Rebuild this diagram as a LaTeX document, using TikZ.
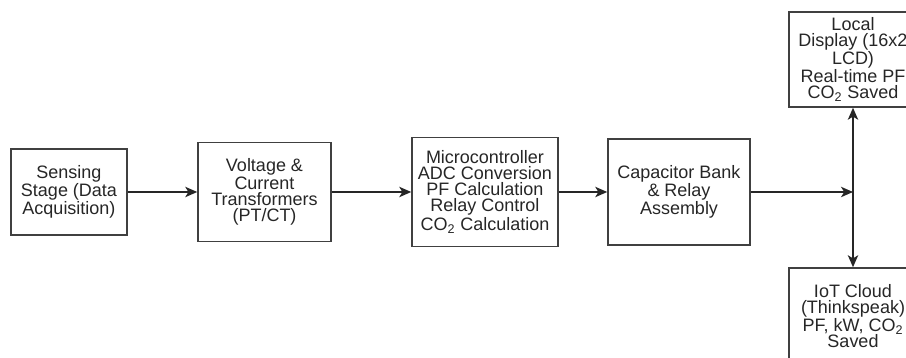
\documentclass[tikz,border=0pt]{standalone}
\usepackage{fontspec}
\setmainfont{Liberation Sans}
\usetikzlibrary{arrows.meta}

\begin{document}
\begin{tikzpicture}[block/.style={draw=black!75, line width=1.1pt, align=center, inner sep=0pt, text=black!85, font=\fontsize{12.8}{11.4}\selectfont},
	link/.style={line width=1.1pt, draw=black!85, -{Stealth[length=3mm, width=2.6mm, inset=0.8mm]}}]
	\useasboundingbox (0,0) rectangle (22.65,8.95);
	\clip (0,0) rectangle (22.65,8.95);

	\node[block, minimum width=2.9cm, minimum height=2.15cm] (sense) at (1.725,4.15) {Sensing\\Stage (Data\\Acquisition)};
	\node[block, minimum width=3.325cm, minimum height=2.475cm] (ptct) at (6.6125,4.15) {Voltage \&\\Current\\Transformers\\(PT/CT)};
	\node[block, minimum width=3.65cm, minimum height=2.725cm] (mcu) at (12.125,4.15) {Microcontroller\\ADC Conversion\\PF Calculation\\Relay Control\\CO\textsubscript{2} Calculation};
	\node[block, minimum width=3.55cm, minimum height=2.65cm] (capbank) at (16.975,4.15) {Capacitor Bank\\\& Relay\\Assembly};

	\node[block, minimum width=3.2cm, minimum height=2.375cm] (lcd) at (21.325,7.4625) {Local\\Display (16x2\\LCD)\\Real-time PF\\CO\textsubscript{2} Saved};
	\node[block, minimum width=3.2cm, minimum height=2.4cm] (cloud) at (21.325,1.05) {IoT Cloud\\(Thinkspeak)\\PF, kW, CO\textsubscript{2}\\Saved};
	\coordinate (split) at (21.325,4.15);

	\draw[link] (sense) -- (ptct);
	\draw[link] (ptct) -- (mcu);
	\draw[link] (mcu) -- (capbank);
	\draw[link] (capbank) -- (split);
	\draw[link] (split) -- (lcd);
	\draw[link] (split) -- (cloud);
\end{tikzpicture}
\end{document}
